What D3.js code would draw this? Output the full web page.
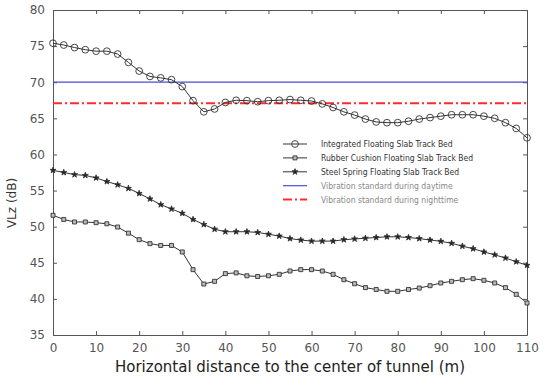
<!DOCTYPE html>
<html>
<head>
<meta charset="utf-8">
<title>VLz vs distance</title>
<script src="https://d3js.org/d3.v7.min.js"></script>
<style>
body { margin: 0; background: #fff; }
svg { display: block; }
.tick text { font-family: "DejaVu Sans", Verdana, sans-serif; font-size: 12px; fill: #555; }
.legend text { font-family: "DejaVu Sans Condensed", "Liberation Sans Narrow", sans-serif; font-size: 8.5px; }
</style>
</head>
<body>
<svg width="546" height="380"></svg>
<script>

// distance from tunnel centre (m)
var distance = [0, 2.5, 5, 7.5, 10, 12.5, 15, 17.5, 20, 22.5, 25, 27.5, 30, 32.5, 35, 37.5, 40, 42.5, 45, 47.5, 50,
  52.5, 55, 57.5, 60, 62.5, 65, 67.5, 70, 72.5, 75, 77.5, 80, 82.5, 85, 87.5, 90, 92.5, 95, 97.5, 100, 102.5, 105, 107.5, 110];

var integrated = [75.4, 75.15, 74.8, 74.5, 74.3, 74.3, 73.9, 72.75, 71.55, 70.8, 70.6, 70.35, 69.4, 67.45, 65.9, 66.3, 67.2, 67.5, 67.45, 67.3, 67.45,
  67.5, 67.6, 67.5, 67.4, 67.0, 66.5, 65.9, 65.45, 64.9, 64.5, 64.4, 64.4, 64.6, 64.9, 65.1, 65.3, 65.5, 65.5, 65.5, 65.3, 65.0, 64.4, 63.6, 62.3];

var rubber = [51.57, 51.0, 50.65, 50.65, 50.55, 50.4, 49.95, 49.1, 48.2, 47.65, 47.4, 47.4, 46.5, 44.05, 42.06, 42.43, 43.5, 43.6, 43.2, 43.1, 43.2,
  43.4, 43.86, 44.05, 44.05, 43.86, 43.4, 42.66, 42.1, 41.56, 41.3, 41.05, 41.05, 41.3, 41.5, 41.83, 42.2, 42.43, 42.66, 42.8, 42.57, 42.2, 41.56, 40.63, 39.43];

var steel = [57.8, 57.5, 57.2, 57.1, 56.75, 56.25, 55.8, 55.3, 54.6, 53.85, 53.05, 52.45, 51.85, 51.0, 50.3, 49.65, 49.3, 49.3, 49.3, 49.2, 48.95,
  48.7, 48.35, 48.15, 48.0, 48.0, 48.0, 48.2, 48.3, 48.4, 48.5, 48.6, 48.6, 48.5, 48.35, 48.15, 47.97, 47.7, 47.3, 46.95, 46.5, 46.1, 45.66, 45.15, 44.65];

var dayLimit = 70;
var nightLimit = 67.1;

var xTicks = [0, 10, 20, 30, 40, 50, 60, 70, 80, 90, 100, 110];
var yTicks = [35, 40, 45, 50, 55, 60, 65, 70, 75, 80];

var legendLabels = ["Integrated Floating Slab Track Bed", "Rubber Cushion Floating Slab Track Bed",
  "Steel Spring Floating Slab Track Bed", "Vibration standard during daytime", "Vibration standard during nighttime"];

var svg = d3.select("svg");
var margin = {top: 10, right: 19, bottom: 45, left: 53},
  width = 546 - margin.left - margin.right,
  height = 380 - margin.top - margin.bottom;

var g = svg.append("g").attr("transform", "translate(" + margin.left + "," + margin.top + ")");

var x = d3.scaleLinear().domain([0, 110]).range([0, width]);
var y = d3.scaleLinear().domain([35, 80]).range([height, 0]);

// axes, ticks pointing inward like matlab
var frame = "#555";
function styleAxis(sel) {
  sel.select(".domain").attr("stroke", frame);
  sel.selectAll(".tick line").attr("stroke", frame);
}
g.append("g").attr("transform", "translate(0," + height + ")")
  .call(d3.axisBottom(x).tickValues(xTicks).tickSizeInner(-4).tickSizeOuter(0).tickPadding(8))
  .call(styleAxis);
g.append("g")
  .call(d3.axisLeft(y).tickValues(yTicks).tickSizeInner(-4).tickSizeOuter(0).tickPadding(8))
  .call(styleAxis);
g.append("g")
  .call(d3.axisTop(x).tickValues(xTicks).tickSizeInner(-4).tickSizeOuter(0).tickFormat(""))
  .call(styleAxis);
g.append("g").attr("transform", "translate(" + width + ",0)")
  .call(d3.axisRight(y).tickValues(yTicks).tickSizeInner(-4).tickSizeOuter(0).tickFormat(""))
  .call(styleAxis);

// standard lines
g.append("line").attr("x1", 0).attr("x2", width)
  .attr("y1", y(dayLimit)).attr("y2", y(dayLimit))
  .attr("stroke", "#4a4ad0").attr("stroke-width", 1.2);
g.append("line").attr("x1", 0).attr("x2", width)
  .attr("y1", y(nightLimit)).attr("y2", y(nightLimit))
  .attr("stroke", "#ff2a2a").attr("stroke-width", 2).attr("stroke-dasharray", "9,3,2,3");

var series = [
  {values: integrated, symbol: d3.symbolCircle, size: 36, fill: "none"},
  {values: rubber, symbol: d3.symbolSquare, size: 16, fill: "#bbb"},
  {values: steel, symbol: d3.symbolStar, size: 11, fill: "#222"}
];

var line = d3.line()
  .x(function(d) { return x(d[0]); })
  .y(function(d) { return y(d[1]); });

series.forEach(function(s) {
  var pts = distance.map(function(dx, i) { return [dx, s.values[i]]; });
  g.append("path").datum(pts)
    .attr("d", line)
    .attr("fill", "none")
    .attr("stroke", "#333")
    .attr("stroke-width", 1);
  g.selectAll(null).data(pts).enter().append("path")
    .attr("transform", function(d) { return "translate(" + x(d[0]) + "," + y(d[1]) + ")"; })
    .attr("d", d3.symbol().type(s.symbol).size(s.size))
    .attr("fill", s.fill)
    .attr("stroke", "#333")
    .attr("stroke-width", 0.9);
});

// legend
var leg = svg.append("g").attr("class", "legend").attr("transform", "translate(283,144)");
legendLabels.forEach(function(lbl, i) {
  var row = leg.append("g").attr("transform", "translate(0," + (i * 13.9) + ")");
  var ln = row.append("line").attr("x1", 0).attr("x2", 24).attr("y1", 0).attr("y2", 0);
  if (i < 3) {
    ln.attr("stroke", "#333").attr("stroke-width", 1);
    row.append("path").attr("transform", "translate(12,0)")
      .attr("d", d3.symbol().type(series[i].symbol).size(series[i].size))
      .attr("fill", series[i].fill).attr("stroke", "#333").attr("stroke-width", 0.9);
  } else if (i == 3) {
    ln.attr("stroke", "#4a4ad0").attr("stroke-width", 1.2);
  } else {
    ln.attr("stroke", "#ff2a2a").attr("stroke-width", 2).attr("stroke-dasharray", "9,3,2,3");
  }
  row.append("text").attr("x", 38).attr("y", 3)
    .attr("fill", i < 3 ? "#333" : "#888")
    .text(lbl);
});

// axis titles
svg.append("text")
  .attr("x", margin.left + width / 2).attr("y", 372)
  .attr("text-anchor", "middle")
  .attr("font-family", "DejaVu Sans, Verdana, sans-serif")
  .attr("font-size", 15).attr("fill", "#222")
  .text("Horizontal distance to the center of tunnel (m)");

svg.append("text")
  .attr("transform", "translate(16,203) rotate(-90)")
  .attr("text-anchor", "middle")
  .attr("font-family", "DejaVu Sans, Verdana, sans-serif")
  .attr("font-size", 12).attr("fill", "#333")
  .text("VLz (dB)");

</script>
</body>
</html>
